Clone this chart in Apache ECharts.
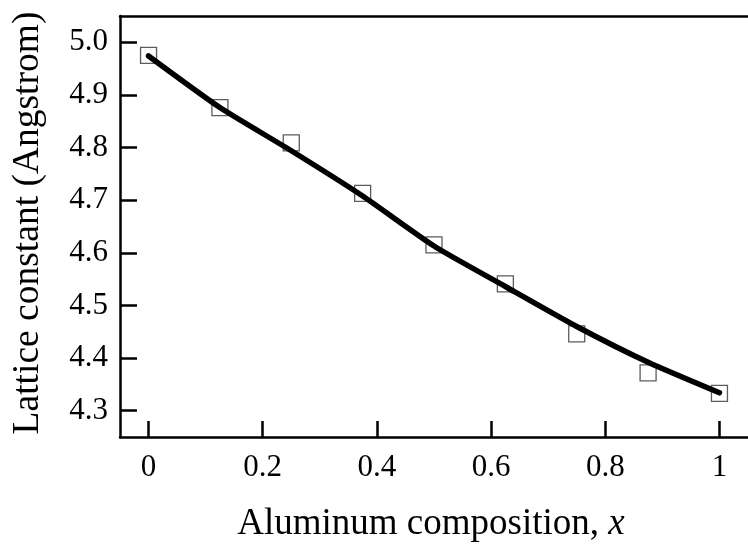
<!DOCTYPE html>
<html>
<head>
<meta charset="utf-8">
<script src="https://cdn.jsdelivr.net/npm/echarts@6/dist/echarts.min.js"></script>
<style>
  html, body { margin: 0; padding: 0; background: #fff; }
  #chart { width: 748px; height: 545px; }
</style>
</head>
<body>
<div id="chart"></div>
<script>
// Aluminum fraction of each computed alloy
const composition = [0, 0.125, 0.25, 0.375, 0.5, 0.625, 0.75, 0.875, 1];
// Computed lattice constants (Angstrom)
const latticeValues = [4.975, 4.876, 4.809, 4.713, 4.615, 4.541, 4.446, 4.372, 4.333];
// Fitted bowing curve through the same compositions
const fitValues = [4.974, 4.876, 4.794, 4.708, 4.613, 4.536, 4.460, 4.392, 4.334];
// Tick positions
const xTicks = [0, 0.2, 0.4, 0.6, 0.8, 1];
const yTicks = [4.3, 4.4, 4.5, 4.6, 4.7, 4.8, 4.9, 5.0];

const FONT = "'Liberation Serif', 'DejaVu Serif', serif";

const pairs = (xs, ys) => xs.map((x, i) => [x, ys[i]]);

const chart = echarts.init(document.getElementById('chart'), null, { renderer: 'canvas' });

chart.setOption({
  backgroundColor: '#ffffff',
  animation: false,
  grid: { left: 120, right: -6, top: 16, bottom: 108 },
  xAxis: [
    {
      type: 'value',
      min: -0.05,
      max: 1.05,
      position: 'bottom',
      splitLine: { show: false },
      axisLine: { show: true, onZero: false, lineStyle: { color: '#000', width: 2.5 } },
      axisTick: {
        show: true, inside: true, length: 16, customValues: xTicks,
        lineStyle: { color: '#000', width: 2.5 }
      },
      axisLabel: {
        show: true, customValues: xTicks, margin: 15,
        color: '#000', fontFamily: FONT, fontSize: 31,
        formatter: v => String(+v.toFixed(1))
      }
    },
    {
      type: 'value',
      min: -0.05,
      max: 1.05,
      position: 'top',
      splitLine: { show: false },
      axisLine: { show: true, onZero: false, lineStyle: { color: '#000', width: 2.5 } },
      axisTick: { show: false },
      axisLabel: { show: false }
    }
  ],
  yAxis: {
    type: 'value',
    min: 4.25,
    max: 5.05,
    position: 'left',
    splitLine: { show: false },
    axisLine: { show: true, onZero: false, lineStyle: { color: '#000', width: 2.5 } },
    axisTick: {
      show: true, inside: true, length: 17, customValues: yTicks,
      lineStyle: { color: '#000', width: 2.5 }
    },
    axisLabel: {
      show: true, customValues: yTicks, margin: 12,
      color: '#000', fontFamily: FONT, fontSize: 31,
      formatter: v => v.toFixed(1)
    }
  },
  series: [
    {
      name: 'computed',
      type: 'scatter',
      data: pairs(composition, latticeValues),
      symbol: 'rect',
      symbolSize: 16,
      z: 1,
      itemStyle: { color: 'rgba(0,0,0,0)', borderColor: '#333', borderWidth: 1.3 }
    },
    {
      name: 'fit',
      type: 'line',
      data: pairs(composition, fitValues),
      smooth: 0.2,
      showSymbol: false,
      z: 3,
      lineStyle: { color: '#000', width: 5.5, cap: 'round' }
    }
  ],
  graphic: [
    {
      type: 'text',
      x: 431,
      y: 524,
      style: {
        text: '{a|Aluminum composition, }{b|x}',
        align: 'center',
        verticalAlign: 'middle',
        rich: {
          a: { fontFamily: FONT, fontSize: 37, fill: '#000' },
          b: { fontFamily: FONT, fontSize: 37, fontStyle: 'italic', fill: '#000' }
        }
      }
    },
    {
      type: 'text',
      x: 28,
      y: 223,
      rotation: Math.PI / 2,
      style: {
        text: 'Lattice constant (Angstrom)',
        align: 'center',
        verticalAlign: 'middle',
        fontFamily: FONT,
        fontSize: 37.5,
        fill: '#000'
      }
    }
  ]
});
</script>
</body>
</html>
